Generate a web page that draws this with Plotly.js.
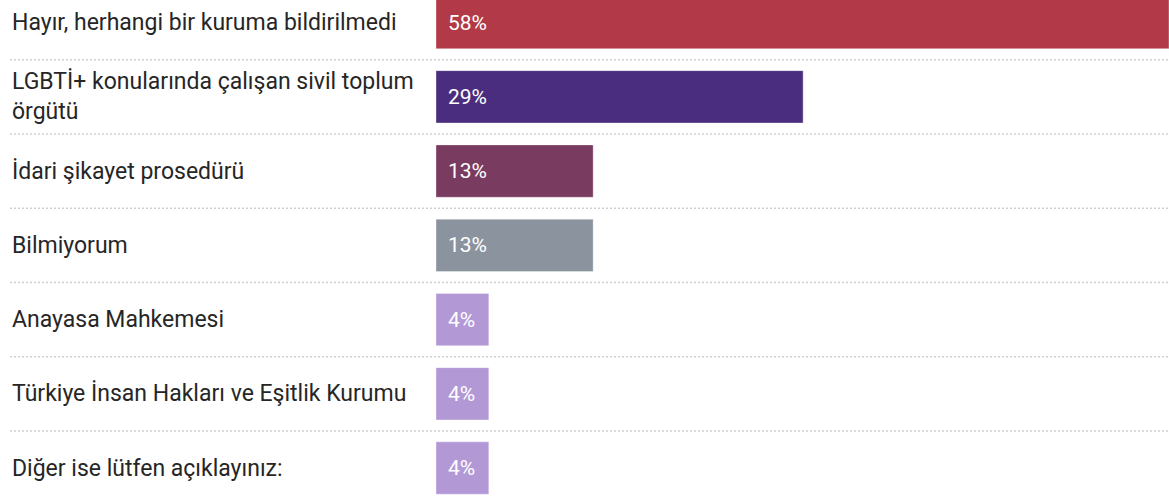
<!DOCTYPE html>
<html>
<head>
<meta charset="utf-8">
<script src="https://cdn.plot.ly/plotly-3.0.1.min.js"></script>
<style>
  html, body { margin: 0; padding: 0; background: #fff; }
  #chart { width: 1169px; height: 497px; }
</style>
</head>
<body>
<div id="chart"></div>
<script>
// categories, top to bottom
const categories = [
  "Hayır, herhangi bir kuruma bildirilmedi",
  "LGBTİ+ konularında çalışan sivil toplum<br>örgütü",
  "İdari şikayet prosedürü",
  "Bilmiyorum",
  "Anayasa Mahkemesi",
  "Türkiye İnsan Hakları ve Eşitlik Kurumu",
  "Diğer ise lütfen açıklayınız:"
];
// shares in percent (bar lengths)
const values = [58.3, 29.2, 12.5, 12.5, 4.2, 4.2, 4.2];
const barColors = ["#b23a48", "#4b2d7f", "#7a3b60", "#8b949e", "#b398d6", "#b398d6", "#b398d6"];

const W = 1169;
const labelArea = 436;                    // px left of the bars
const xmax = values[0];
const pxPerUnit = (W - labelArea) / xmax;
const xmin = -labelArea / pxPerUnit;

// categorical rows as plain indices so positions come from the axis
const yIdx = categories.map((_, i) => i);

const trace = {
  type: "bar",
  orientation: "h",
  x: values,
  y: yIdx,
  width: 0.705,
  marker: {
    color: barColors,
    line: { color: "rgba(255,255,255,0.35)", width: 1 }
  },
  hoverinfo: "skip"
};

const annotations = [];
categories.forEach((c, i) => {
  annotations.push({
    x: xmin, y: i, xref: "x", yref: "y",
    xanchor: "left", yanchor: "middle", xshift: 10,
    align: "left", showarrow: false,
    text: c,
    font: { family: "Roboto, sans-serif", size: 23, color: "#262626" }
  });
  annotations.push({
    x: 0, y: i, xref: "x", yref: "y",
    xanchor: "left", yanchor: "middle", xshift: 10,
    showarrow: false,
    text: Math.round(values[i]) + "%",
    font: { family: "Roboto, sans-serif", size: 21, color: "#fff" }
  });
});

// dotted separators between rows
const shapes = [];
for (let i = 0; i < categories.length - 1; i++) {
  shapes.push({
    type: "line", xref: "x", yref: "y",
    x0: xmin + 10 / pxPerUnit, x1: xmax + 5,
    y0: i + 0.5, y1: i + 0.5,
    line: { color: "#cfcfcf", width: 1.5, dash: "2px,2px" },
    layer: "below"
  });
}

const layout = {
  width: W,
  height: 497,
  margin: { l: 0, r: 0, t: 0, b: 0 },
  paper_bgcolor: "#fff",
  plot_bgcolor: "#fff",
  showlegend: false,
  xaxis: {
    range: [xmin, xmax],
    visible: false,
    fixedrange: true
  },
  yaxis: {
    type: "linear",
    range: [6.39, -0.304],
    visible: false,
    fixedrange: true
  },
  annotations: annotations,
  shapes: shapes
};

Plotly.newPlot("chart", [trace], layout, { displayModeBar: false, staticPlot: true });
</script>
</body>
</html>
